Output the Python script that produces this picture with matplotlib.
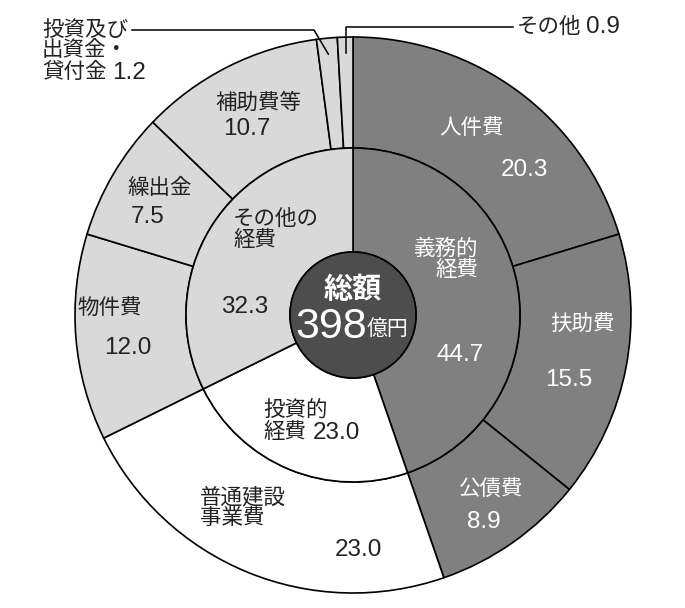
import numpy as np
import matplotlib.pyplot as plt
from matplotlib.patches import Circle

plt.rcParams['font.family'] = ['Liberation Sans', 'Noto Sans CJK JP']

# 歳出の内訳（%）
outer_labels = ['人件費', '扶助費', '公債費', '普通建設\n事業費', '物件費',
                '繰出金', '補助費等', '投資及び\n出資金・\n貸付金', 'その他']
outer_values = [20.3, 15.5, 8.9, 23.0, 12.0, 7.5, 10.7, 1.2, 0.9]
outer_groups = [0, 0, 0, 1, 2, 2, 2, 2, 2]

inner_labels = ['義務的\n経費', '投資的\n経費', 'その他の\n経費']
inner_values = [44.7, 23.0, 32.3]

group_colors = ['#808080', '#ffffff', '#d9d9d9']
total_title = '総額'
total_amount = '398'
total_unit = '億円'

H = 608
cx, cy = 353, H - 315
r_out, r_mid, r_in = 278, 167, 63

fig = plt.figure(figsize=(6.85, 6.08), dpi=100)
ax = fig.add_axes([0, 0, 1, 1])

outer_colors = [group_colors[g] for g in outer_groups]
ax.pie(outer_values, radius=r_out, center=(cx, cy), startangle=90,
       counterclock=False, colors=outer_colors,
       wedgeprops=dict(width=r_out - r_mid, edgecolor='black', linewidth=1.2))
ax.pie(inner_values, radius=r_mid, center=(cx, cy), startangle=90,
       counterclock=False, colors=group_colors,
       wedgeprops=dict(width=r_mid - r_in, edgecolor='black', linewidth=1.2))
ax.add_patch(Circle((cx, cy), r_in, facecolor='#4d4d4d', edgecolor='black', lw=1.2, zorder=3))

ax.set_xlim(0, 685)
ax.set_ylim(0, H)
ax.set_aspect('equal')
ax.axis('off')

LBL = 15.5
NUM = 17.5
DARK = '#222222'


def put(x, y, s, color=DARK, size=LBL, **kw):
    kw.setdefault('ha', 'center')
    kw.setdefault('va', 'center')
    return ax.text(x, H - y, s, color=color, fontsize=size, zorder=5, **kw)


def put_after(t, s, color=DARK, size=NUM, gap=4):
    # number placed just to the right of a label
    return ax.annotate(s, xy=(1, 0.5), xycoords=t, xytext=(gap, 0),
                       textcoords='offset points', ha='left', va='center',
                       color=color, fontsize=size, zorder=5)


# outer ring labels (name position, value position)
name_pos = [(472, 128), (582, 324), (491, 490), (200, 508), (110, 308),
            (160, 188), (258, 103)]
value_pos = [(524, 170), (569, 380), (484, 522), (358, 550), (128, 348),
             (148, 217), (247, 129)]
for i in range(7):
    c = 'white' if outer_groups[i] == 0 else DARK
    nx, ny = name_pos[i]
    vx, vy = value_pos[i]
    if i == 3:
        put(nx, ny, outer_labels[i], c, ha='left', multialignment='left', linespacing=1.0)
    else:
        put(nx, ny, outer_labels[i], c)
    put(vx, vy, f'{outer_values[i]:.1f}', c, size=NUM)

# inner ring labels
put(478, 260, inner_labels[0], 'white', ha='right', multialignment='right', linespacing=1.0)
put(460, 355, f'{inner_values[0]:.1f}', 'white', size=NUM)
top, bottom = inner_labels[1].split('\n')
put(263, 410, top, ha='left')
t = put(263, 433, bottom, ha='left')
put_after(t, f'{inner_values[1]:.1f}', gap=5)
put(233, 230, inner_labels[2], ha='left', multialignment='left', linespacing=1.0)
put(245, 307, f'{inner_values[2]:.1f}', size=NUM)

# center
put(cx, 290, total_title, 'white', size=21, fontweight='bold')
ax.text(cx + 14, H - 327, total_amount, color='white', fontsize=31,
        ha='right', va='center', zorder=5)
ax.text(cx + 14, H - 329, total_unit, color='white', fontsize=15,
        ha='left', va='center', zorder=5)

# leader lines for the thin slices
cum = np.cumsum([0] + outer_values)


def anchor(i, r=262):
    frac = (cum[i] + outer_values[i] / 2) / 100
    th = np.deg2rad(90 - 360 * frac)
    return cx + r * np.cos(th), cy + r * np.sin(th)


a7 = anchor(7)
ax.plot([a7[0], 314, 132], [a7[1], H - 30, H - 30], color='black', lw=1.1, zorder=4)
lines7 = outer_labels[7].split('\n')
put(42, 30, lines7[0], ha='left')
put(42, 51, lines7[1], ha='left')
t = put(42, 73, lines7[2], ha='left')
put_after(t, f'{outer_values[7]:.1f}', gap=4)

a8 = anchor(8)
ax.plot([a8[0], a8[0], 513], [a8[1], H - 27, H - 27], color='black', lw=1.1, zorder=4)
t = put(517, 27, outer_labels[8], ha='left')
put_after(t, f'{outer_values[8]:.1f}', gap=3)

fig.savefig('out.png', dpi=100)
